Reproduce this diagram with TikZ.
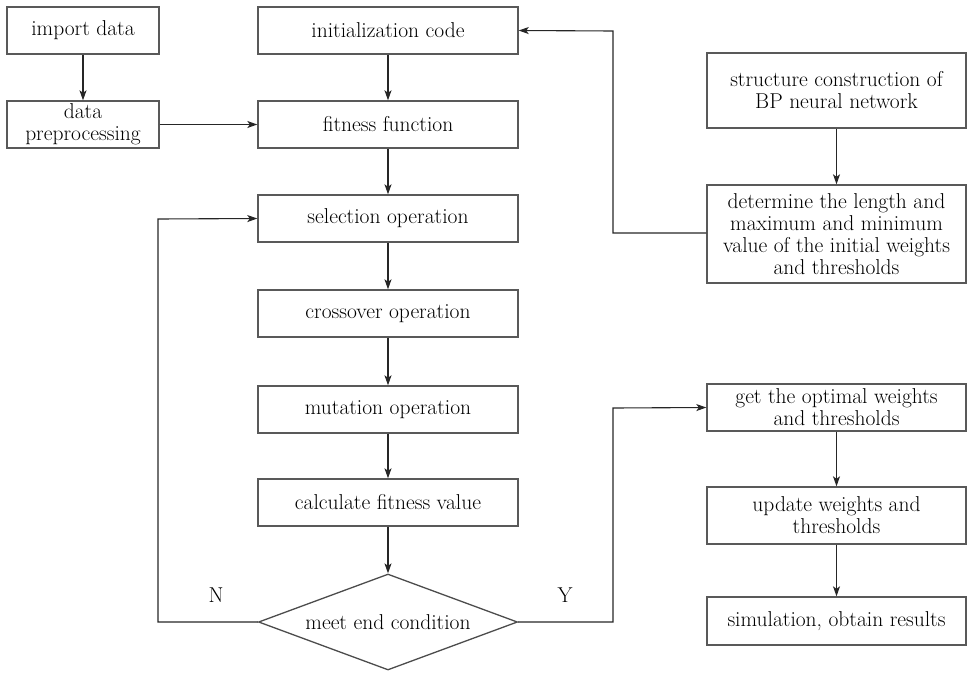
\documentclass[tikz,border=0pt]{standalone}
\usetikzlibrary{shapes.geometric,arrows.meta,shadows}
\begin{document}
\begin{tikzpicture}[x=1pt,y=-1pt,
  box/.style={draw=black!65,line width=1.4pt,fill=white,align=center,inner sep=2pt,
    font=\fontsize{21.5}{22}\selectfont,
    drop shadow={opacity=0.18,shadow xshift=1.2pt,shadow yshift=-1.2pt}},
  dec/.style={draw=black!70,line width=1.3pt,fill=white,diamond,aspect=2.7,inner sep=0pt,
    font=\fontsize{21.5}{22}\selectfont},
  conn/.style={draw=black!85,line width=1.1pt,-{Stealth[length=10pt,width=7pt,inset=2.5pt]}},
  lbl/.style={font=\fontsize{21.5}{22}\selectfont}]
\useasboundingbox (0,0) rectangle (968,672);
\node[box,minimum width=152pt,minimum height=47pt] (imp) at (83,30.5) {import data};
\node[box,minimum width=152pt,minimum height=47pt] (pre) at (83,124.5) {data\\preprocessing};
\node[box,minimum width=260pt,minimum height=47pt] (init) at (388,30.5) {initialization code};
\node[box,minimum width=260pt,minimum height=47pt] (fit) at (388,124.5) {fitness function};
\node[box,minimum width=260pt,minimum height=47pt] (sel) at (388,218.5) {selection operation};
\node[box,minimum width=260pt,minimum height=47pt] (cro) at (388,313.5) {crossover operation};
\node[box,minimum width=260pt,minimum height=47pt] (mut) at (388,409.5) {mutation operation};
\node[box,minimum width=260pt,minimum height=47pt] (cal) at (388,502.5) {calculate fitness value};
\node[dec,minimum width=259pt,minimum height=96pt] (end) at (388,622) {meet end condition};
\node[box,minimum width=259pt,minimum height=75pt] (str) at (836.5,90.5) {structure construction of\\BP neural network};
\node[box,minimum width=259pt,minimum height=98pt] (det) at (836.5,234) {determine the length and\\maximum and minimum\\value of the initial weights\\and thresholds};
\node[box,minimum width=259pt,minimum height=47pt] (opt) at (836.5,407.5) {get the optimal weights\\and thresholds};
\node[box,minimum width=259pt,minimum height=57pt] (upd) at (836.5,515.5) {update weights and\\thresholds};
\node[box,minimum width=259pt,minimum height=48pt] (sim) at (836.5,621) {simulation, obtain results};
\coordinate (nl) at (158,622);
\coordinate (nu) at (158,219);
\coordinate (yl) at (613,622);
\coordinate (yu) at (613,408);
\coordinate (dl) at (613,233);
\coordinate (du) at (613,31);
\node[lbl] (N) at (216,595) {N};
\node[lbl] (Y) at (565,595) {Y};
\draw[conn] (imp) -- (pre);
\draw[conn] (pre) -- (fit);
\draw[conn] (init) -- (fit);
\draw[conn] (fit) -- (sel);
\draw[conn] (sel) -- (cro);
\draw[conn] (cro) -- (mut);
\draw[conn] (mut) -- (cal);
\draw[conn] (cal) -- (end);
\draw[conn] (end.west) -- (nl) -- (nu) -- (sel.west);
\draw[conn] (end.east) -- (yl) -- (yu) -- (opt.west);
\draw[conn] (det.west |- dl) -- (dl) -- (du) -- (init.east);
\draw[conn] (str) -- (det);
\draw[conn] (opt) -- (upd);
\draw[conn] (upd) -- (sim);
\end{tikzpicture}
\end{document}
